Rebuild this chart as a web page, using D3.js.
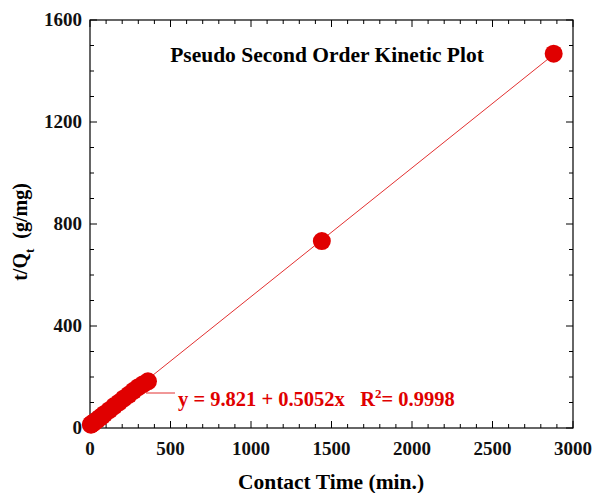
<!DOCTYPE html>
<html><head><meta charset="utf-8">
<script src="https://cdn.jsdelivr.net/npm/d3@7"></script>
<style>body{margin:0;background:#fff}svg{display:block}</style>
</head><body>
<svg id="c" width="593" height="493"></svg>
<script>
const times = [5,10,15,20,30,45,60,75,90,120,150,180,210,240,270,300,330,360,1440,2880];
const tOverQ = [13,15,17,20,25,32,40,47,55,70,86,100,116,130,146,160,172,183,733,1468];
const xTicks = [0,500,1000,1500,2000,2500,3000];
const yTicks = [0,400,800,1200,1600];
const fitIntercept = 9.821, fitSlope = 0.5052;
const titleText = "Pseudo Second Order Kinetic Plot";
const eqText = "y = 9.821 + 0.5052x   R";

const svg = d3.select("#c");
const L=90,R=573,T=20,B=428;
const x = d3.scaleLinear().domain([0,3000]).range([L,R]);
const y = d3.scaleLinear().domain([0,1600]).range([B,T]);
const serif = "'Liberation Serif','Times New Roman',serif";

// frame
svg.append("rect").attr("x",L).attr("y",T).attr("width",R-L).attr("height",B-T)
  .attr("fill","none").attr("stroke","#000").attr("stroke-width",1.2);

const xMinor = d3.range(0,3001,100), yMinor = d3.range(0,1601,100);
const g = svg.append("g").attr("stroke","#000").attr("stroke-width",1);
xMinor.forEach(v=>{
  const len = v%500===0?7:4;
  g.append("line").attr("x1",x(v)).attr("x2",x(v)).attr("y1",B).attr("y2",B-len);
  g.append("line").attr("x1",x(v)).attr("x2",x(v)).attr("y1",T).attr("y2",T+len);
});
yMinor.forEach(v=>{
  const len = v%400===0?7:4;
  g.append("line").attr("y1",y(v)).attr("y2",y(v)).attr("x1",L).attr("x2",L+len);
  g.append("line").attr("y1",y(v)).attr("y2",y(v)).attr("x1",R).attr("x2",R-len);
});

// tick labels
svg.append("g").selectAll("text").data(xTicks).join("text")
  .attr("x",d=>x(d)).attr("y",B+27).attr("text-anchor","middle")
  .attr("font-family",serif).attr("font-weight","bold").attr("font-size",19).attr("fill","#111")
  .text(d=>d);
svg.append("g").selectAll("text").data(yTicks).join("text")
  .attr("x",L-8).attr("y",d=>y(d)+6).attr("text-anchor","end")
  .attr("font-family",serif).attr("font-weight","bold").attr("font-size",19).attr("fill","#111")
  .text(d=>d);

// fit line
svg.append("line").attr("x1",x(0)).attr("y1",y(fitIntercept))
  .attr("x2",x(2880)).attr("y2",y(fitIntercept+fitSlope*2880))
  .attr("stroke","#e23030").attr("stroke-width",1);

// points
svg.append("g").selectAll("circle").data(times.map((t,i)=>[t,tOverQ[i]])).join("circle")
  .attr("cx",d=>x(d[0])).attr("cy",d=>y(d[1])).attr("r",9).attr("fill","#e00000");

// title
svg.append("text").attr("x",327).attr("y",62).attr("text-anchor","middle")
  .attr("font-family",serif).attr("font-weight","bold").attr("font-size",21.5).attr("fill","#000")
  .text(titleText);

// equation
svg.append("line").attr("x1",146).attr("x2",175).attr("y1",393).attr("y2",393)
  .attr("stroke","#e23030").attr("stroke-width",1);
const eq = svg.append("text").attr("x",178).attr("y",406)
  .attr("font-family",serif).attr("font-weight","bold").attr("font-size",20.5).attr("fill","#e00000")
  .style("white-space","pre");
eq.append("tspan").text(eqText);
eq.append("tspan").attr("dy",-8).attr("font-size",13).text("2");
eq.append("tspan").attr("dy",8).text("= 0.9998");

// axis titles
svg.append("text").attr("x",331).attr("y",489).attr("text-anchor","middle")
  .attr("font-family",serif).attr("font-weight","bold").attr("font-size",21.5).attr("fill","#000")
  .text("Contact Time (min.)");
const yl = svg.append("text").attr("transform","translate(27,232) rotate(-90)").attr("text-anchor","middle")
  .attr("font-family",serif).attr("font-weight","bold").attr("font-size",20).attr("fill","#000")
  .style("white-space","pre");
yl.append("tspan").text("t/Q");
yl.append("tspan").attr("dy",7).attr("font-size",13).text("t");
yl.append("tspan").attr("dy",-7).text("  (g/mg)");
</script>
</body></html>
